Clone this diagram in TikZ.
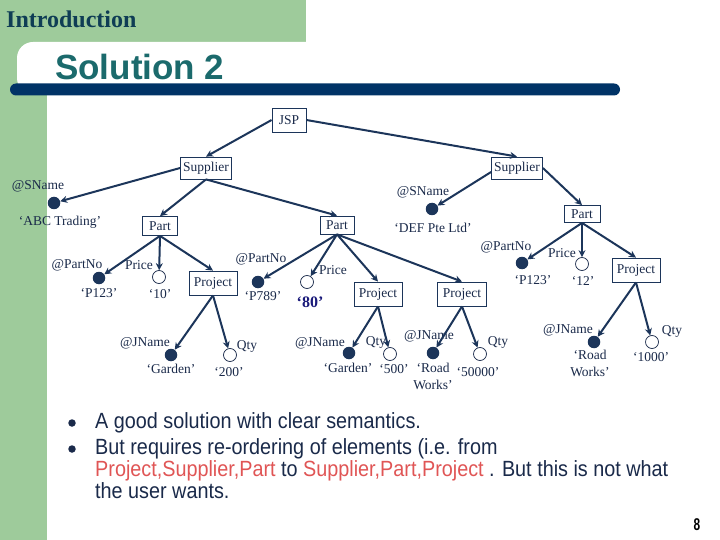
\documentclass[tikz,border=0pt]{standalone}
\usepackage{fontspec}
\setmainfont{Liberation Serif}
\newfontfamily\sansbody[FakeStretch=0.9]{Liberation Sans}
\newfontfamily\sanstitle{Liberation Sans}
\newfontfamily\numfont[FakeStretch=0.7]{Liberation Sans}
\usetikzlibrary{arrows.meta}
\definecolor{slgreen}{HTML}{9ECB9B}
\definecolor{barnavy}{HTML}{003366}
\definecolor{titleteal}{HTML}{1B6A6C}
\definecolor{introcol}{HTML}{0F3D55}
\definecolor{treenavy}{HTML}{1C355A}
\definecolor{txtnavy}{HTML}{1A2A4A}
\definecolor{hlred}{HTML}{E05555}
\definecolor{eightyblue}{HTML}{1A1A7A}
\begin{document}
\begin{tikzpicture}[x=1pt,y=-1pt,
  box/.style={draw=treenavy, line width=0.8pt, fill=white, inner sep=0pt,
    font=\fontsize{13.5}{14}\selectfont, text=txtnavy},
  fdot/.style={circle, fill=treenavy, inner sep=0pt, minimum size=12.5pt},
  odot/.style={circle, draw=txtnavy, line width=0.7pt, fill=white, inner sep=0pt, minimum size=13pt},
  lbl/.style={font=\fontsize{13.5}{14}\selectfont, text=txtnavy, inner sep=0pt},
  tedge/.style={draw=treenavy, line width=2pt, -{Stealth[length=7pt,width=7pt]}},
  bul/.style={circle, fill=txtnavy, inner sep=0pt, minimum size=7.5pt},
  btext/.style={font=\sansbody\fontsize{22}{22}\selectfont, text=txtnavy, inner sep=0pt, align=left, anchor=north west}
]
\useasboundingbox (0,0) rectangle (720,540);
% background
\fill[white] (0,0) rectangle (720,540);
\fill[slgreen] (0,0) rectangle (306,42);
\fill[slgreen] (0,0) rectangle (47,540);
\fill[white, rounded corners=16pt] (17,42) rectangle (730,94);
\fill[barnavy, rounded corners=6pt] (10,83.5) rectangle (620,95.5);
\node[font=\bfseries\fontsize{24}{24}\selectfont, text=introcol, anchor=west, inner sep=0pt] (intro) at (6,19) {Introduction};
\node[font=\sanstitle\bfseries\fontsize{35}{35}\selectfont, text=titleteal, anchor=west, inner sep=0pt] (title) at (55,67) {Solution 2};

% boxes
\node[box, minimum width=34pt, minimum height=24pt] (jsp) at (289,120) {JSP};
\node[box, minimum width=51pt, minimum height=22pt] (sup1) at (206,168) {Supplier};
\node[box, minimum width=51pt, minimum height=22pt] (sup2) at (517,168) {Supplier};
\node[box, minimum width=35pt, minimum height=19pt] (part1) at (160,226) {Part};
\node[box, minimum width=34pt, minimum height=18pt] (part2) at (337,225) {Part};
\node[box, minimum width=36pt, minimum height=17pt] (part3) at (582,214) {Part};
\node[box, minimum width=48pt, minimum height=24pt] (proj1) at (213,283) {Project};
\node[box, minimum width=48pt, minimum height=24pt] (proj2) at (378,294) {Project};
\node[box, minimum width=49pt, minimum height=24pt] (proj3) at (462,294) {Project};
\node[box, minimum width=48pt, minimum height=24pt] (proj4) at (636,270) {Project};

% dots
\node[fdot] (sn1) at (54,203) {};
\node[fdot] (sn2) at (432,209) {};
\node[fdot] (pn1) at (99,278) {};
\node[odot] (pr1) at (159,277) {};
\node[fdot] (jn1) at (171,355) {};
\node[odot] (q1) at (230,355) {};
\node[fdot] (pn2) at (258,282) {};
\node[odot] (pr2) at (307,282) {};
\node[fdot] (jn2) at (349,353) {};
\node[odot] (q2) at (390,354) {};
\node[fdot] (jn3) at (433,353) {};
\node[odot] (q3) at (480,354) {};
\node[fdot] (pn3) at (522,263) {};
\node[odot] (pr3) at (582,264) {};
\node[fdot] (jn4) at (594,342) {};
\node[odot] (q4) at (652,342) {};

% labels
\node[lbl] (l1) at (38,186) {@SName};
\node[lbl] (l2) at (60,222) {‘ABC Trading’};
\node[lbl] (l3) at (423,192) {@SName};
\node[lbl] (l4) at (433,228) {‘DEF Pte Ltd’};
\node[lbl] (l5) at (77,265) {@PartNo};
\node[lbl] (l6) at (99,293) {‘P123’};
\node[lbl] (l7) at (139,265) {Price};
\node[lbl] (l8) at (160,294) {‘10’};
\node[lbl] (l9) at (145,343) {@JName};
\node[lbl] (l10) at (171,369) {‘Garden’};
\node[lbl] (l11) at (247,346) {Qty};
\node[lbl] (l12) at (229,372) {‘200’};
\node[lbl] (l13) at (261,259) {@PartNo};
\node[lbl] (l14) at (263,296) {‘P789’};
\node[lbl] (l15) at (333,270) {Price};
\node[font=\bfseries\fontsize{16}{16}\selectfont, text=eightyblue, inner sep=0pt] (l16) at (310,302) {‘80’};
\node[lbl] (l17) at (320,343) {@JName};
\node[lbl] (l18) at (348,368) {‘Garden’};
\node[lbl] (l19) at (376,342) {Qty};
\node[lbl] (l20) at (394,369) {‘500’};
\node[lbl] (l21) at (429,336) {@JName};
\node[lbl, align=center, font=\fontsize{13.5}{17}\selectfont] (l22) at (433,376) {‘Road\\Works’};
\node[lbl] (l23) at (498,342) {Qty};
\node[lbl] (l24) at (478,372) {‘50000’};
\node[lbl] (l25) at (506,247) {@PartNo};
\node[lbl] (l26) at (533,280) {‘P123’};
\node[lbl] (l27) at (562,253) {Price};
\node[lbl] (l28) at (583,281) {‘12’};
\node[lbl] (l29) at (568,330) {@JName};
\node[lbl, align=center, font=\fontsize{13.5}{17}\selectfont] (l30) at (590,363) {‘Road\\Works’};
\node[lbl] (l31) at (672,331) {Qty};
\node[lbl] (l32) at (651,357) {‘1000’};

% edges
\draw[tedge] (jsp.west) -- (sup1.north);
\draw[tedge] (jsp.east) -- (sup2.north);
\draw[tedge] (sup1.west) -- (sn1);
\draw[tedge] (sup1.south) -- (part1.north);
\draw[tedge] (sup1.south) -- (part2.north);
\draw[tedge] ([yshift=-4pt]sup2.west) -- (sn2);
\draw[tedge] (sup2.east) -- (part3.north);
\draw[tedge] (part1.south) -- (pn1);
\draw[tedge] (part1.south) -- (pr1);
\draw[tedge] (part1.south) -- (proj1.north);
\draw[tedge] (proj1.south) -- (jn1);
\draw[tedge] (proj1.south) -- (q1);
\draw[tedge] (part2.south) -- (pn2);
\draw[tedge] (part2.south) -- (pr2);
\draw[tedge] (part2.south) -- (proj2.north);
\draw[tedge] (part2.south) -- (proj3.north);
\draw[tedge] (proj2.south) -- (jn2);
\draw[tedge] (proj2.south) -- (q2);
\draw[tedge] (proj3.south) -- (jn3);
\draw[tedge] (proj3.south) -- (q3);
\draw[tedge] (part3.south) -- (pn3);
\draw[tedge] (part3.south) -- (pr3);
\draw[tedge] (part3.south) -- (proj4.north);
\draw[tedge] (proj4.south) -- (jn4);
\draw[tedge] (proj4.south) -- (q4);

% bullets
\node[bul] (b1) at (72,423) {};
\node[bul] (b2) at (72,449) {};
\node[btext] (t1) at (95,412) {A good solution with clear semantics.};
\node[btext] (t2) at (95,438) {But requires re-ordering of elements (i.e. from\\
\textcolor{hlred}{Project,Supplier,Part} to \textcolor{hlred}{Supplier,Part,Project} . But this is not what\\
the user wants.};
\node[font=\numfont\bfseries\fontsize{17}{17}\selectfont, text=black, inner sep=0pt] (pg) at (697,525) {8};
\end{tikzpicture}
\end{document}
